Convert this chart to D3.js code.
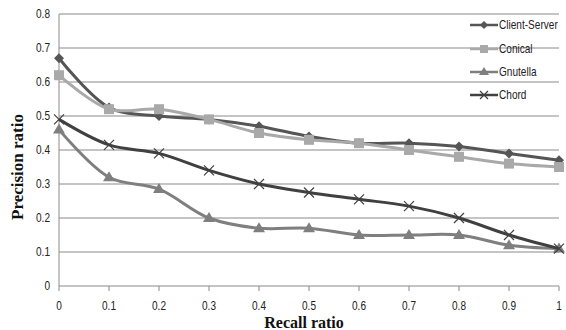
<!DOCTYPE html>
<html>
<head>
<meta charset="utf-8">
<script src="https://cdn.jsdelivr.net/npm/d3@7"></script>
<style>
  body { margin: 0; background: #fff; }
  svg { display: block; }
  .tick-label { font-family: "Liberation Sans", Arial, sans-serif; font-size: 12px; fill: #222; }
  .axis-title { font-family: "Liberation Serif", "Times New Roman", serif; font-weight: bold; fill: #111; }
</style>
</head>
<body>
<div id="chart"></div>
<script>
// 数据
const recall = [0, 0.1, 0.2, 0.3, 0.4, 0.5, 0.6, 0.7, 0.8, 0.9, 1];
const clientServer = [0.67, 0.525, 0.50, 0.49, 0.47, 0.44, 0.42, 0.42, 0.41, 0.39, 0.37];
const conical = [0.62, 0.52, 0.52, 0.49, 0.45, 0.43, 0.42, 0.40, 0.38, 0.36, 0.35];
const gnutella = [0.46, 0.32, 0.285, 0.20, 0.17, 0.17, 0.15, 0.15, 0.15, 0.12, 0.11];
const chord = [0.49, 0.415, 0.39, 0.34, 0.30, 0.275, 0.255, 0.235, 0.20, 0.15, 0.11];
const seriesNames = ["Client-Server", "Conical", "Gnutella", "Chord"];
const yTicks = [0, 0.1, 0.2, 0.3, 0.4, 0.5, 0.6, 0.7, 0.8];

const W = 566, H = 330;
const svg = d3.select("#chart").append("svg").attr("width", W).attr("height", H);

const x = d3.scaleLinear().domain([0, 1]).range([59, 559]);
const y = d3.scaleLinear().domain([0, 0.8]).range([286, 14]);

// 窄字体效果：水平压缩
function narrowText(g, tx, ty, str, anchor) {
    return g.append("text")
        .attr("class", "tick-label")
        .attr("transform", `translate(${tx},${ty}) scale(0.84,1)`)
        .attr("text-anchor", anchor)
        .text(str);
}

// 网格线
svg.append("g").selectAll("line")
    .data(yTicks.filter(d => d > 0))
    .enter().append("line")
    .attr("x1", 59).attr("x2", 559)
    .attr("y1", d => y(d)).attr("y2", d => y(d))
    .attr("stroke", "#8a8a8a").attr("stroke-width", 1);

// 坐标轴
svg.append("line").attr("x1", 59).attr("x2", 59).attr("y1", 14).attr("y2", 286)
    .attr("stroke", "#8a8a8a");
svg.append("line").attr("x1", 59).attr("x2", 559).attr("y1", 286).attr("y2", 286)
    .attr("stroke", "#8a8a8a");
svg.append("g").selectAll("line")
    .data(recall)
    .enter().append("line")
    .attr("x1", d => x(d)).attr("x2", d => x(d))
    .attr("y1", 286).attr("y2", 291)
    .attr("stroke", "#8a8a8a");

const yLab = svg.append("g");
yTicks.forEach(d => narrowText(yLab, 50, y(d) + 4, d, "end"));

const xLab = svg.append("g");
recall.forEach(d => narrowText(xLab, x(d), 310, d, "middle"));

svg.append("text").attr("class", "axis-title")
    .attr("x", 304).attr("y", 328).attr("text-anchor", "middle")
    .attr("font-size", 16)
    .text("Recall ratio");
svg.append("text").attr("class", "axis-title")
    .attr("transform", "translate(23,167) rotate(-90)")
    .attr("text-anchor", "middle")
    .attr("font-size", 17)
    .text("Precision ratio");

// 系列
const series = [
    { name: seriesNames[0], values: clientServer, color: "#555555", marker: "diamond" },
    { name: seriesNames[1], values: conical, color: "#a9a9a9", marker: "square" },
    { name: seriesNames[2], values: gnutella, color: "#7f7f7f", marker: "triangle" },
    { name: seriesNames[3], values: chord, color: "#404040", marker: "cross" }
];

const line = d3.line()
    .x((d, i) => x(recall[i]))
    .y(d => y(d))
    .curve(d3.curveCatmullRom.alpha(0.5));

function drawMarker(g, type, cx, cy, color, s) {
    s = s || 5;
    if (type === "diamond") {
        g.append("path").attr("d", `M${cx},${cy - s}L${cx + s},${cy}L${cx},${cy + s}L${cx - s},${cy}Z`)
            .attr("fill", color);
    } else if (type === "square") {
        g.append("rect").attr("x", cx - s).attr("y", cy - s).attr("width", 2 * s).attr("height", 2 * s)
            .attr("fill", color);
    } else if (type === "triangle") {
        g.append("path").attr("d", `M${cx},${cy - s - 1}L${cx + s + 1},${cy + s - 1}L${cx - s - 1},${cy + s - 1}Z`)
            .attr("fill", color);
    } else {
        g.append("path").attr("d", `M${cx - s},${cy - s}L${cx + s},${cy + s}M${cx + s},${cy - s}L${cx - s},${cy + s}`)
            .attr("stroke", color).attr("stroke-width", 1.2).attr("fill", "none");
    }
}

series.forEach(s => {
    svg.append("path")
        .datum(s.values)
        .attr("d", line)
        .attr("fill", "none")
        .attr("stroke", s.color)
        .attr("stroke-width", 3);
    const g = svg.append("g");
    s.values.forEach((v, i) => drawMarker(g, s.marker, x(recall[i]), y(v), s.color));
});

// 图例
const legendY = [25, 49, 72, 95];
series.forEach((s, i) => {
    const g = svg.append("g");
    const ly = legendY[i];
    g.append("line").attr("x1", 470).attr("x2", 498).attr("y1", ly).attr("y2", ly)
        .attr("stroke", s.color).attr("stroke-width", 2.5);
    drawMarker(g, s.marker, 484, ly, s.color, 4);
    narrowText(g, 499, ly + 4, s.name, "start");
});
</script>
</body>
</html>
